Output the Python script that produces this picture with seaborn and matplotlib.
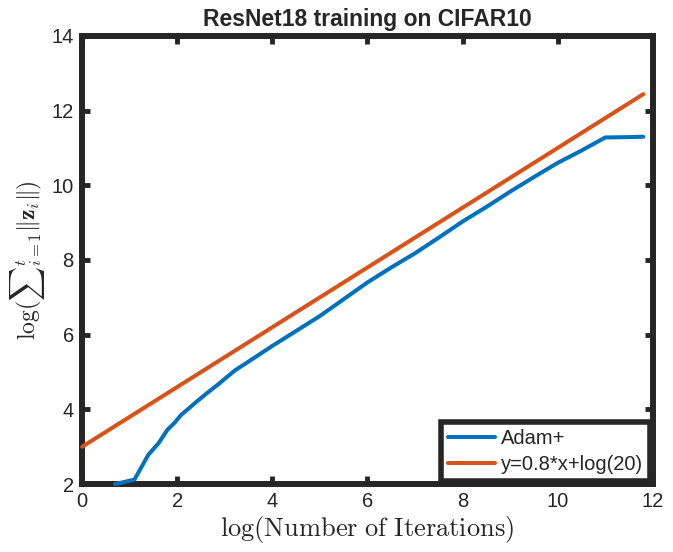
import numpy as np
import pandas as pd
import seaborn as sns
import matplotlib
matplotlib.use("Agg")
import matplotlib.pyplot as plt

# blue curve
adam_x = [0.69, 1.1, 1.39, 1.61, 1.79, 1.95, 2.08, 2.2, 2.4, 2.64, 2.89, 3.0, 3.22, 3.5,
          4.0, 4.5, 5.0, 5.5, 6.0, 6.5, 7.0, 7.5, 8.0, 8.5, 9.0, 9.5, 10.0, 10.5, 11.0, 11.5, 11.8]
adam_y = [2.0, 2.12, 2.78, 3.1, 3.45, 3.65, 3.85, 3.98, 4.2, 4.45, 4.7, 4.82, 5.05, 5.28,
          5.7, 6.1, 6.5, 6.95, 7.4, 7.8, 8.18, 8.6, 9.03, 9.42, 9.83, 10.22, 10.6, 10.93, 11.28, 11.29, 11.3]

# reference line endpoints
ref_x = [0.0, 11.8]
ref_y = [3.0, 12.44]

labels = ["Adam+", "y=0.8*x+log(20)"]
colors = ["#0072BD", "#D95319"]
xticks = [0, 2, 4, 6, 8, 10, 12]
yticks = [2, 4, 6, 8, 10, 12, 14]

df = pd.concat([
    pd.DataFrame({"x": adam_x, "y": adam_y, "series": labels[0]}),
    pd.DataFrame({"x": ref_x, "y": ref_y, "series": labels[1]}),
])

sns.set_style("white")
plt.rcParams["font.family"] = ["Liberation Sans", "DejaVu Sans"]
plt.rcParams["mathtext.fontset"] = "cm"

fig = plt.figure(figsize=(6.73, 5.52), dpi=100)
ax = fig.add_axes([0.122, 0.123, 0.848, 0.812])

sns.lineplot(data=df, x="x", y="y", hue="series", palette=colors, linewidth=2.9,
             sort=False, estimator=None, ax=ax)
for ln in ax.get_lines():
    ln.set_clip_on(False)
    ln.set_zorder(3)

ax.set_xlim(0, 12)
ax.set_ylim(2, 14)
ax.set_xticks(xticks)
ax.set_yticks(yticks)
ax.tick_params(direction="in", length=6, width=3.5, labelsize=14.5, colors="#262626",
               bottom=True, left=True, top=True, right=True, pad=6)
for s in ax.spines.values():
    s.set_linewidth(4.3)
    s.set_color("#262626")
    s.set_visible(True)
    s.set_zorder(2.5)

ax.set_title("ResNet18 training on CIFAR10", fontsize=16.5, fontweight="bold", pad=7)
ax.set_xlabel(r"$\log(\mathrm{Number\ of\ Iterations})$", fontsize=19, labelpad=2)
ax.set_ylabel(r"$\log({\sum}_{i=1}^{t}\|\mathbf{z}_i\|)$", fontsize=17, labelpad=3)

leg = ax.legend(loc="lower right", fontsize=14.5, frameon=True, fancybox=False,
                borderaxespad=0.15, handlelength=2.3, labelspacing=0.35, borderpad=0.35,
                handletextpad=0.3)
leg.get_frame().set_edgecolor("#262626")
leg.get_frame().set_linewidth(4.0)
leg.get_frame().set_alpha(1)
leg.set_zorder(5)

fig.savefig("out.png", dpi=100)
